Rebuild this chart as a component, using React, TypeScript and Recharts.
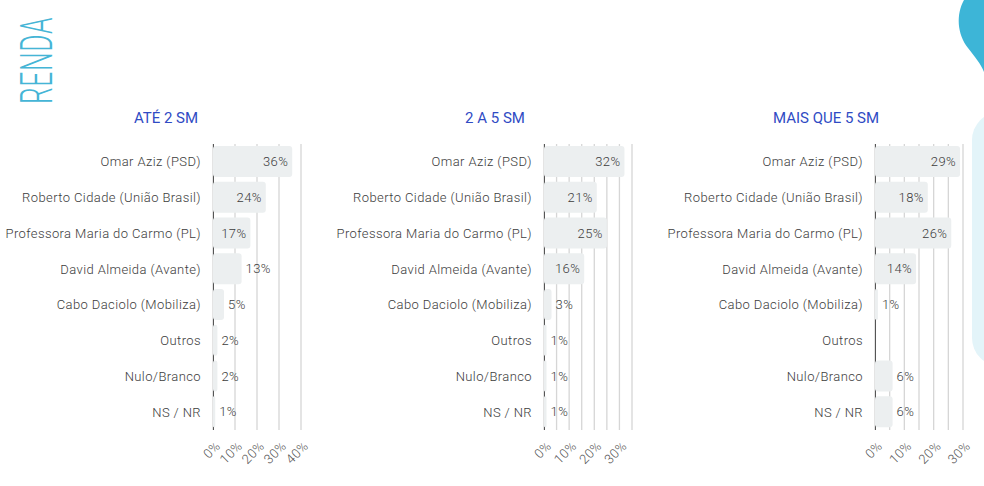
import React from 'react';
import { BarChart, Bar, XAxis, YAxis, CartesianGrid, LabelList } from 'recharts';

const categories = [
  'Omar Aziz (PSD)',
  'Roberto Cidade (União Brasil)',
  'Professora Maria do Carmo (PL)',
  'David Almeida (Avante)',
  'Cabo Daciolo (Mobiliza)',
  'Outros',
  'Nulo/Branco',
  'NS / NR',
];

const ate2SM = [36, 24, 17, 13, 5, 2, 2, 1];
const de2a5SM = [32, 21, 25, 16, 3, 1, 1, 1];
const maisQue5SM = [29, 18, 26, 14, 1, 0, 6, 6];

const panelTitles = ['ATÉ 2 SM', '2 A 5 SM', 'MAIS QUE 5 SM'];
const ticks1 = [0, 10, 20, 30, 40];
const ticks2 = [0, 5, 10, 15, 20, 25, 30, 35];
const ticks3 = [0, 5, 10, 15, 20, 25, 30];
const pageTitle = 'RENDA';

const FONT = 'Roboto, "Noto Sans", sans-serif';
const TEXT = '#3c3c3c';

const ValueLabel = (props: any) => {
  const { x, y, width, height, value } = props;
  if (!value) return null;
  const inside = width >= 33;
  const tx = inside ? x + width - 4 : x + width + 4;
  return (
    <text
      x={tx}
      y={y + height / 2}
      dy="0.35em"
      textAnchor={inside ? 'end' : 'start'}
      fontFamily={FONT}
      fontWeight={300}
      fontSize={13}
      letterSpacing={0.4}
      fill={TEXT}
    >
      {value}%
    </text>
  );
};

const XTick = (props: any) => {
  const { x, y, payload } = props;
  if (payload.value % 10 !== 0) return null;
  const px = x + 8;
  const py = y + 17;
  return (
    <text
      x={px}
      y={py}
      textAnchor="end"
      transform={`rotate(-45, ${px}, ${py})`}
      fontFamily={FONT}
      fontWeight={300}
      fontSize={13}
      letterSpacing={0.3}
      fill="#555"
    >
      {payload.value}%
    </text>
  );
};

const zeroLine = (args: any) => [args.offset.left + 0.5];

type PanelProps = {
  values: number[];
  title: string;
  ticks: number[];
  left: number;
  titleX: number;
};

const Panel = ({ values, title, ticks, left, titleX }: PanelProps) => {
  const data = categories.map((name, i) => ({ name, value: values[i] }));
  const max = ticks[ticks.length - 1];
  return (
    <>
      <div
        style={{
          position: 'absolute',
          left: titleX - 100,
          width: 200,
          top: 106,
          textAlign: 'center',
          fontFamily: FONT,
          fontSize: 15,
          fontWeight: 400,
          color: '#2f4bc4',
          letterSpacing: 0,
          lineHeight: '24px',
        }}
      >
        {title}
      </div>
      <div style={{ position: 'absolute', left, top: 130 }}>
        <BarChart
          width={214 + 88 + 10}
          height={350}
          data={data}
          layout="vertical"
          margin={{ top: 14, right: 10, bottom: 0, left: 0 }}
        >
          <CartesianGrid horizontal={false} stroke="#d6d6d6" strokeWidth={1.3} />
          <CartesianGrid
            horizontal={false}
            verticalCoordinatesGenerator={zeroLine}
            stroke="#555"
            strokeWidth={1}
          />
          <XAxis
            type="number"
            domain={[0, max]}
            ticks={ticks}
            interval={0}
            axisLine={false}
            tickLine={false}
            tickSize={0}
            tickMargin={0}
            height={50}
            tick={<XTick />}
          />
          <YAxis
            type="category"
            dataKey="name"
            width={214}
            tickLine={false}
            tickSize={6}
            tickMargin={6}
            axisLine={false}
            interval={0}
            tick={{ fontFamily: FONT, fontWeight: 300, fontSize: 13, fill: TEXT, letterSpacing: 0.4 }}
          />
          <Bar dataKey="value" fill="#eceff0" barSize={31} radius={3} isAnimationActive={false}>
            <LabelList dataKey="value" content={<ValueLabel />} />
          </Bar>
        </BarChart>
      </div>
    </>
  );
};

export default function App() {
  return (
    <div
      style={{
        position: 'absolute',
        left: 0,
        top: 0,
        width: 984,
        height: 486,
        overflow: 'hidden',
        background: '#fff',
      }}
    >
      <svg width={984} height={486} style={{ position: 'absolute', left: 0, top: 0 }}>
        <path
          d="M 964 0 C 956 14, 957 34, 968 48 C 975 57, 981 64, 984 72 L 984 0 Z"
          fill="#3db5d7"
        />
        <rect x={972} y={112} width={60} height={254} rx={28} fill="#e3f4f9" />
        <g transform="translate(52, 104) rotate(-90) scale(0.6, 1)">
          <text
            x={0}
            y={0}
            fontFamily={FONT}
            fontWeight={300}
            fontSize={44}
            letterSpacing={1}
            fill="#45b5d6"
          >
            {pageTitle}
          </text>
        </g>
      </svg>
      <Panel values={ate2SM} title={panelTitles[0]} ticks={ticks1} left={-1} titleX={166} />
      <Panel values={de2a5SM} title={panelTitles[1]} ticks={ticks2} left={330} titleX={495} />
      <Panel values={maisQue5SM} title={panelTitles[2]} ticks={ticks3} left={661} titleX={826} />
    </div>
  );
}
